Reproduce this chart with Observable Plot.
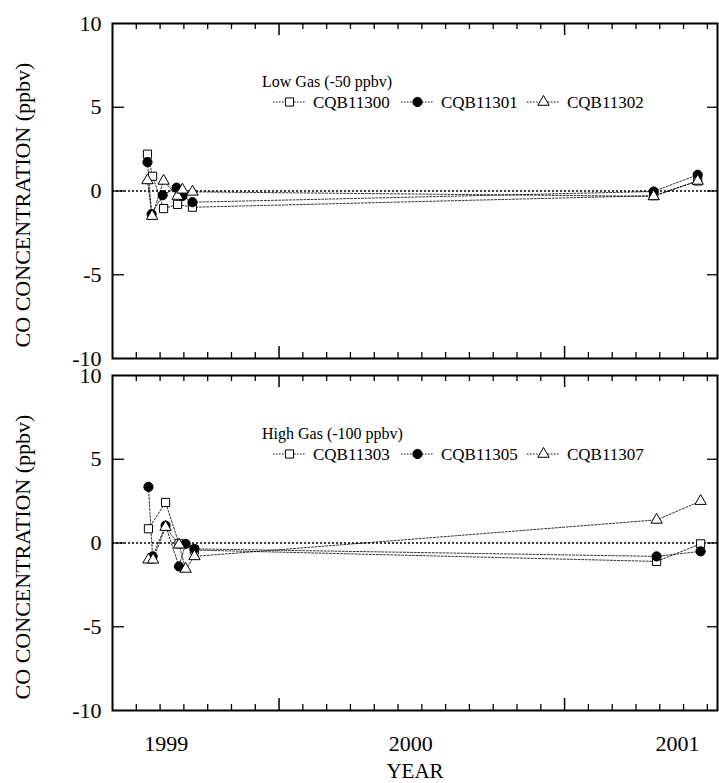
<!DOCTYPE html>
<html>
<head>
<meta charset="utf-8">
<script src="https://cdn.jsdelivr.net/npm/d3@7"></script>
<script src="https://cdn.jsdelivr.net/npm/@observablehq/plot@0.6"></script>
<style>
  body { margin: 0; background: #fff; }
  #chart { width: 719px; }
  #chart svg { display: block; overflow: visible; }
</style>
</head>
<body>
<div id="chart"></div>
<script>
// ---------- data ----------
const yAxisTitle = "CO CONCENTRATION (ppbv)";
const xAxisTitle = "YEAR";
const yearLabels = ["1999", "2000", "2001"];
const yearLabelPos = [1999, 2000, 2001.09];
const yTickLabels = [-10, -5, 0, 5, 10];
const yInnerTicks = [-5, 0, 5];
const xDomain = [1998.78, 2001.254];
const yDomain = [-10, 10];
const minorTickStep = 0.0973;
const minorTickCount = 25;
const majorTickIndex = [7, 19];

// Low gas panel
const lowGasTitle = "Low Gas (-50 ppbv)";
const lowGasNames = ["CQB11300", "CQB11301", "CQB11302"];
const cqb11300Year = [1998.923, 1998.944, 1998.989, 1999.046, 1999.107, 2000.993, 2001.173];
const cqb11300Value = [2.2, 0.88, -1.05, -0.8, -0.97, -0.28, 0.6];
const cqb11301Year = [1998.923, 1998.940, 1998.985, 1999.042, 1999.066, 1999.107, 2000.993, 2001.173];
const cqb11301Value = [1.72, -1.38, -0.25, 0.2, -0.3, -0.67, -0.03, 0.97];
const cqb11302Year = [1998.923, 1998.942, 1998.989, 1999.046, 1999.066, 1999.107, 2000.993, 2001.173];
const cqb11302Value = [0.63, -1.5, 0.6, -0.3, 0.07, -0.05, -0.32, 0.6];

// High gas panel
const highGasTitle = "High Gas (-100 ppbv)";
const highGasNames = ["CQB11303", "CQB11305", "CQB11307"];
const cqb11303Year = [1998.927, 1998.997, 1999.052, 1999.115, 2001.005, 2001.185];
const cqb11303Value = [0.85, 2.42, -0.05, -0.42, -1.1, -0.05];
const cqb11305Year = [1998.927, 1998.944, 1998.997, 1999.052, 1999.079, 1999.115, 2001.005, 2001.185];
const cqb11305Value = [3.35, -0.8, 1.04, -1.4, -0.05, -0.35, -0.8, -0.5];
const cqb11307Year = [1998.927, 1998.946, 1998.997, 1999.052, 1999.079, 1999.115, 2001.005, 2001.185];
const cqb11307Value = [-1.0, -1.0, 0.95, -0.1, -1.55, -0.8, 1.38, 2.5];

const symbolKinds = ["square", "circle", "triangle"];
const symbolFills = ["white", "black", "white"];

// ---------- helpers ----------
const toRows = (name, xs, ys) => xs.map((x, i) => ({series: name, year: x, value: ys[i]}));
const allTicks = d3.range(1, minorTickCount + 1).map(i => ({i, x: xDomain[0] + i * minorTickStep}));
const minorTicks = allTicks.filter(d => !majorTickIndex.includes(d.i)).map(d => d.x);
const majorTicks = allTicks.filter(d => majorTickIndex.includes(d.i)).map(d => d.x);
const yearLabelRows = yearLabels.map((t, i) => ({t, x: yearLabelPos[i]}));

const W = 719;
const mLeft = 112, mRight = 2;
const frameW = W - mLeft - mRight;
const frameH = 335;
const FONT = "Liberation Serif, Times New Roman, serif";

function panel({title, names, series, height, marginTop, marginBottom, showX}) {
  const rows = series.map((s, k) => toRows(names[k], s[0], s[1]));
  const marks = [
    Plot.ruleY([0], {stroke: "black", strokeWidth: 1.6, strokeDasharray: "2,2"}),
    Plot.line(rows.flat(), {x: "year", y: "value", z: "series", stroke: "black",
      strokeWidth: 0.8, strokeDasharray: "2,1.6"}),
  ];
  [0, 1, 2].forEach(k => {
    marks.push(Plot.dot(rows[k], {x: "year", y: "value", symbol: symbolKinds[k],
      r: k === 2 ? 4.2 : 4.6, fill: symbolFills[k], stroke: "black", strokeWidth: 1}));
  });
  marks.push(
    Plot.ruleX(minorTicks, {stroke: "black", strokeWidth: 1.3, insetBottom: frameH - 6}),
    Plot.ruleX(minorTicks, {stroke: "black", strokeWidth: 1.3, insetTop: frameH - 6}),
    Plot.ruleX(majorTicks, {stroke: "black", strokeWidth: 1.5, insetBottom: frameH - 12}),
    Plot.ruleX(majorTicks, {stroke: "black", strokeWidth: 1.5, insetTop: frameH - 12}),
    Plot.ruleY(yInnerTicks, {stroke: "black", strokeWidth: 1.3, insetRight: frameW - 12}),
    Plot.ruleY(yInnerTicks, {stroke: "black", strokeWidth: 1.3, insetLeft: frameW - 10}),
    Plot.axisY(yTickLabels, {tickSize: 0, tickPadding: 11, fontSize: 22, label: null,
      tickFormat: d => String(d)}),
    Plot.text([yAxisTitle], {text: d => d, frameAnchor: "left", textAnchor: "middle",
      lineAnchor: "middle", rotate: -90, dx: -90, dy: 14, fontSize: 22, fill: "black"}),
    Plot.frame({stroke: "black", strokeWidth: 2})
  );
  if (showX) {
    marks.push(
      Plot.text(yearLabelRows, {x: "x", text: "t", frameAnchor: "bottom", lineAnchor: "top",
        dy: 25, fontSize: 22, fill: "black"}),
      Plot.text([xAxisTitle], {text: d => d, frameAnchor: "bottom", textAnchor: "middle",
        lineAnchor: "middle", dy: 61, fontSize: 21, fill: "black"})
    );
  }
  const chart = Plot.plot({
    width: W, height, marginLeft: mLeft, marginRight: mRight, marginTop, marginBottom,
    x: {domain: xDomain, axis: null},
    y: {domain: yDomain},
    style: {fontFamily: FONT, fontSize: "22px", background: "white", overflow: "visible", color: "black"},
    marks
  });

  // legend inside the frame
  const svg = d3.select(chart);
  const g = svg.append("g")
    .attr("transform", `translate(${mLeft},${marginTop})`)
    .attr("font-family", FONT).attr("fill", "black").attr("text-anchor", "start");
  g.append("text").attr("x", 150).attr("y", 58).attr("dy", "0.35em")
    .attr("font-size", 16).attr("text-anchor", "start").text(title);
  const itemX = [161, 289, 415];
  names.forEach((name, k) => {
    const x0 = itemX[k], cy = 79;
    g.append("line").attr("x1", x0).attr("x2", x0 + 33).attr("y1", cy).attr("y2", cy)
      .attr("stroke", "black").attr("stroke-width", 1).attr("stroke-dasharray", "1.5,1.5");
    const r = k === 2 ? 4.2 : 4.6;
    const sym = {square: d3.symbolSquare, circle: d3.symbolCircle, triangle: d3.symbolTriangle}[symbolKinds[k]];
    g.append("path").attr("d", d3.symbol(sym, r * r * Math.PI)())
      .attr("transform", `translate(${x0 + 16.5},${cy})`)
      .attr("fill", symbolFills[k]).attr("stroke", "black").attr("stroke-width", 1);
    g.append("text").attr("x", x0 + 40).attr("y", cy).attr("dy", "0.35em")
      .attr("font-size", 17).attr("text-anchor", "start").text(name);
  });
  return chart;
}

const root = document.getElementById("chart");
root.appendChild(panel({
  title: lowGasTitle, names: lowGasNames,
  series: [[cqb11300Year, cqb11300Value], [cqb11301Year, cqb11301Value], [cqb11302Year, cqb11302Value]],
  height: 366, marginTop: 23, marginBottom: 8, showX: false
}));
root.appendChild(panel({
  title: highGasTitle, names: highGasNames,
  series: [[cqb11303Year, cqb11303Value], [cqb11305Year, cqb11305Value], [cqb11307Year, cqb11307Value]],
  height: 417, marginTop: 9, marginBottom: 73, showX: true
}));
</script>
</body>
</html>
